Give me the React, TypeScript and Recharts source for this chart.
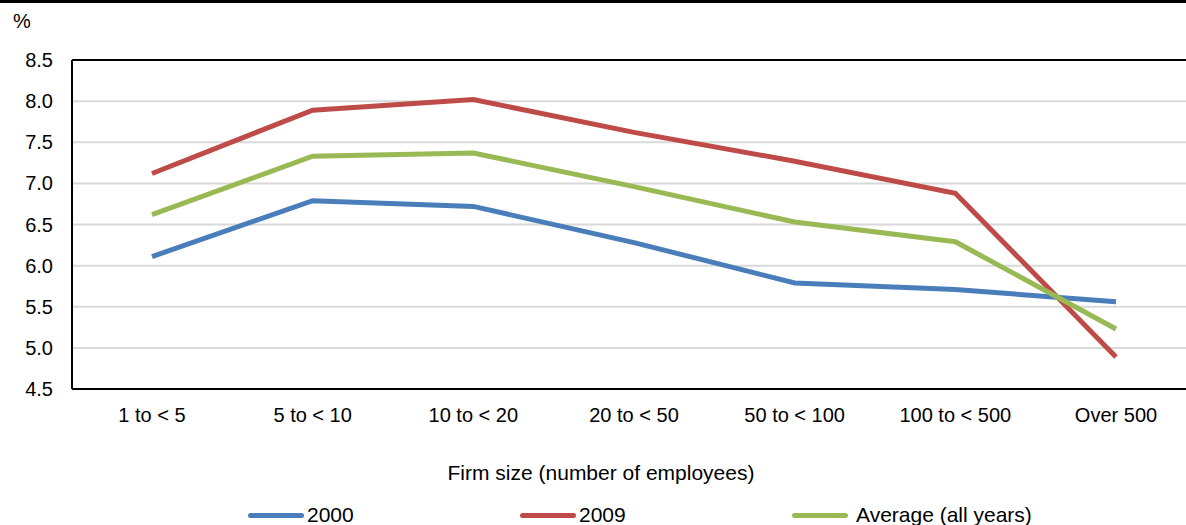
import { LineChart, Line, XAxis, YAxis, CartesianGrid, ReferenceLine } from 'recharts'

const categories = ['1 to < 5', '5 to < 10', '10 to < 20', '20 to < 50', '50 to < 100', '100 to < 500', 'Over 500']
const y2000 = [6.11, 6.79, 6.72, 6.28, 5.79, 5.71, 5.56]
const y2009 = [7.12, 7.89, 8.02, 7.62, 7.27, 6.88, 4.89]
const yAverage = [6.62, 7.33, 7.37, 6.96, 6.53, 6.29, 5.23]
const yTicks = [4.5, 5.0, 5.5, 6.0, 6.5, 7.0, 7.5, 8.0, 8.5]

const series = [
  { key: 'y2000', name: '2000', color: '#4a7ebb' },
  { key: 'y2009', name: '2009', color: '#be4b48' },
  { key: 'avg', name: 'Average (all years)', color: '#98b954' },
]

const data = categories.map((name, i) => ({
  name,
  y2000: y2000[i],
  y2009: y2009[i],
  avg: yAverage[i],
}))

const font = '"Liberation Sans", Arial, sans-serif'

// legend entries sit at fixed columns like the original
const legendLeft = [248, 520, 792]

function ChartLegend() {
  return (
    <div style={{ position: 'absolute', left: 0, top: 503, width: 1186, height: 24, fontSize: 21, color: '#000' }}>
      {series.map((s, i) => (
        <div key={s.key} style={{ position: 'absolute', left: legendLeft[i], top: 0, height: 24, display: 'flex', alignItems: 'center', whiteSpace: 'nowrap' }}>
          <span style={{ display: 'inline-block', width: 56, height: 5, borderRadius: 3, background: s.color, marginRight: i === 2 ? 8 : 3 }} />
          <span>{s.name}</span>
        </div>
      ))}
    </div>
  )
}

export default function App() {
  return (
    <div style={{ position: 'absolute', left: 0, top: 0, width: 1186, height: 525, overflow: 'hidden', background: '#fff', fontFamily: font }}>
      <div style={{ position: 'absolute', left: 0, top: 0, width: 1186, height: 3, background: '#000' }} />
      <div style={{ position: 'absolute', left: 13, top: 10, fontSize: 20 }}>%</div>
      <LineChart width={1200} height={525} data={data} margin={{ top: 60, right: 4, left: 0, bottom: 0 }}>
        <CartesianGrid horizontal vertical={false} stroke="#d9d9d9" strokeWidth={2} />
        <XAxis
          dataKey="name"
          padding={{ left: 80, right: 80 }}
          axisLine={{ stroke: '#000', strokeWidth: 2 }}
          tickLine={false}
          tickSize={0}
          tickMargin={19}
          height={136}
          tick={{ fill: '#000', fontSize: 20, fontFamily: font }}
        />
        <YAxis
          domain={[4.5, 8.5]}
          ticks={yTicks}
          interval={0}
          width={72}
          axisLine={{ stroke: '#000', strokeWidth: 2 }}
          tickLine={false}
          tickSize={0}
          tickMargin={19}
          tickFormatter={(v: number) => v.toFixed(1)}
          tick={{ fill: '#000', fontSize: 20, fontFamily: font }}
        />
        <ReferenceLine y={8.5} stroke="#000" strokeWidth={2} />
        {series.map(s => (
          <Line
            key={s.key}
            type="linear"
            dataKey={s.key}
            name={s.name}
            stroke={s.color}
            strokeWidth={5}
            dot={false}
            activeDot={false}
            isAnimationActive={false}
          />
        ))}
      </LineChart>
      <div style={{ position: 'absolute', left: 0, top: 461, width: 1202, textAlign: 'center', fontSize: 21, color: '#000' }}>
        Firm size (number of employees)
      </div>
      <ChartLegend />
    </div>
  )
}
